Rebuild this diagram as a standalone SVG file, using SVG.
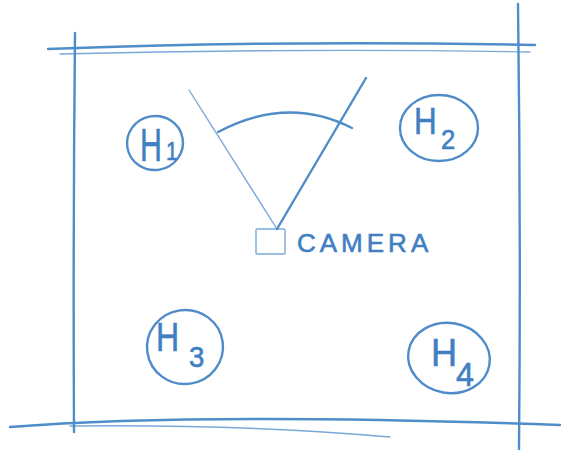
<svg xmlns="http://www.w3.org/2000/svg" width="566" height="450" viewBox="0 0 566 450">
<style>
.s{fill:none;stroke:#4f8cc9;stroke-linecap:round;stroke-linejoin:round}
.w{stroke-width:2.4}
.f{stroke-width:1.4;opacity:0.75}
.t{fill:#3f7fc2;stroke:#3f7fc2;stroke-width:0.6;font-family:"Liberation Sans",Arial,sans-serif}
</style>
<rect width="566" height="450" fill="#ffffff"/>
<g id="room">
<path class="s w" d="M48 49 Q280 40 535 45"/>
<path class="s f" d="M60 54 Q300 48 530 52"/>
<path class="s w" d="M75 33 Q73 230 74 432"/>
<path class="s w" d="M518 4 Q521 230 519 449"/>
<path class="s w" d="M10 427 Q200 412 560 425"/>
<path class="s f" d="M70 426 Q240 424 390 437"/>
</g>
<g id="camera">
<rect class="s f" x="256" y="229" width="29" height="25" rx="1"/>
<path class="s f" d="M277 229 L189 90"/>
<path class="s w" d="M277 229 L366 78"/>
<path class="s w" d="M218 132 Q288 95 352 128"/>
<text class="t" x="297" y="252" font-size="26" letter-spacing="4">CAMERA</text>
</g>
<g id="H1">
<ellipse class="s w" cx="155" cy="143" rx="28" ry="27" transform="rotate(-10 155 143)"/>
<text class="t" transform="translate(140 161) scale(0.66 1)" font-size="46">H</text>
<text class="t" transform="translate(166 160) scale(0.85 1)" font-size="25">1</text>
</g>
<g id="H2">
<ellipse class="s w" cx="439" cy="128" rx="39" ry="33"/>
<text class="t" transform="translate(414 134) scale(0.85 1)" font-size="37">H</text>
<text class="t" transform="translate(441 149) scale(0.95 1)" font-size="27">2</text>
</g>
<g id="H3">
<ellipse class="s w" cx="185" cy="347" rx="38" ry="37" transform="rotate(-8 185 347)"/>
<text class="t" transform="translate(156 351) scale(0.8 1)" font-size="40">H</text>
<text class="t" transform="translate(189 367) scale(0.95 1)" font-size="29">3</text>
</g>
<g id="H4">
<ellipse class="s w" cx="449" cy="358" rx="41" ry="35" transform="rotate(10 449 358)"/>
<text class="t" transform="translate(431 366) scale(0.95 1)" font-size="38">H</text>
<text class="t" transform="translate(456 386) scale(0.95 1)" font-size="34">4</text>
</g>
</svg>
